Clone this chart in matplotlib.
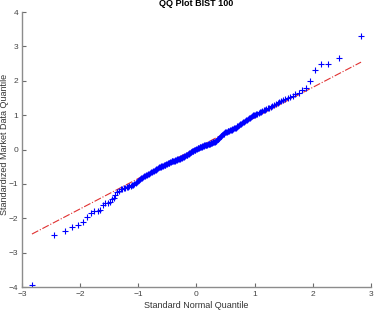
import numpy as np
import matplotlib
matplotlib.use("Agg")
import matplotlib.pyplot as plt
from statistics import NormalDist

# sorted standardized sample values (n = 215)
sample = [
    -3.94, -2.50, -2.36, -2.25, -2.19, -2.12, -1.97, -1.85, -1.79, -1.78,
    -1.77, -1.60, -1.57, -1.55, -1.53, -1.45, -1.40, -1.33, -1.24, -1.20,
    -1.16, -1.14, -1.13, -1.11, -1.09, -1.08, -1.07, -1.06, -1.04, -1.02,
    -1.00, -0.97, -0.95, -0.92, -0.89, -0.86, -0.84, -0.82, -0.80, -0.78,
    -0.77, -0.75, -0.73, -0.72, -0.70, -0.68, -0.66, -0.65, -0.63, -0.62,
    -0.60, -0.59, -0.57, -0.56, -0.54, -0.52, -0.51, -0.50, -0.49, -0.48,
    -0.47, -0.46, -0.45, -0.44, -0.43, -0.41, -0.40, -0.39, -0.38, -0.36,
    -0.35, -0.34, -0.34, -0.33, -0.33, -0.32, -0.31, -0.31, -0.30, -0.29,
    -0.29, -0.28, -0.27, -0.26, -0.25, -0.24, -0.23, -0.22, -0.21, -0.20,
    -0.19, -0.17, -0.16, -0.15, -0.13, -0.12, -0.10, -0.09, -0.07, -0.06,
    -0.05, -0.04, -0.03, -0.02, -0.01, 0.00, 0.01, 0.02,
    0.03, 0.04, 0.05, 0.06, 0.06, 0.07, 0.08, 0.09, 0.10, 0.11,
    0.12, 0.12, 0.13, 0.14, 0.14, 0.15, 0.16, 0.17, 0.17, 0.18,
    0.19, 0.20, 0.21, 0.21, 0.22, 0.23, 0.24, 0.26, 0.28, 0.30,
    0.32, 0.34, 0.36, 0.38, 0.40, 0.42, 0.44, 0.46, 0.48, 0.50,
    0.51, 0.52, 0.53, 0.54, 0.55, 0.56, 0.57, 0.58, 0.60, 0.61,
    0.62, 0.63, 0.64, 0.65, 0.67, 0.69, 0.70, 0.73, 0.75, 0.77,
    0.79, 0.81, 0.83, 0.85, 0.87, 0.89, 0.91, 0.93, 0.95, 0.97,
    0.99, 1.00, 1.01, 1.03, 1.04, 1.06, 1.08, 1.10, 1.12, 1.14,
    1.16, 1.18, 1.20, 1.22, 1.24, 1.27, 1.29, 1.32, 1.34, 1.37,
    1.40, 1.44, 1.47, 1.49, 1.52, 1.56, 1.61, 1.65, 1.73, 1.80,
    1.99, 2.30, 2.48, 2.50, 2.65, 3.29,
]

x_ticks = [-3, -2, -1, 0, 1, 2, 3]
y_ticks = [-4, -3, -2, -1, 0, 1, 2, 3, 4]

y = np.array(sample)
n = len(y)
nd = NormalDist()
x = np.array([nd.inv_cdf((i - 0.5) / n) for i in range(1, n + 1)])

# reference line through the quartiles, extended over the data range
q1y, q3y = np.percentile(y, [25, 75])
q1x, q3x = nd.inv_cdf(0.25), nd.inv_cdf(0.75)
slope = (q3y - q1y) / (q3x - q1x)
icpt = q1y - slope * q1x
lx = np.array([x.min(), x.max()])
ly = icpt + slope * lx

plt.rcParams['font.family'] = ['Liberation Sans', 'DejaVu Sans']

fig = plt.figure(figsize=(3.74, 3.12), dpi=100)
ax = fig.add_axes([0.0588, 0.0801, 0.9332, 0.8814])

ax.plot(lx, ly, linestyle='-.', color='#e03030', linewidth=0.8, zorder=1)
ax.plot(x, y, linestyle='none', marker='+', color='#0000ff',
        markersize=5, markeredgewidth=0.8, zorder=2)

ax.set_xlim(-3, 3)
ax.set_ylim(-4, 4)
ax.set_xticks(x_ticks)
ax.set_yticks(y_ticks)

for s in ['top', 'right']:
    ax.spines[s].set_visible(False)
for s in ['left', 'bottom']:
    ax.spines[s].set_color('#8c8c8c')
    ax.spines[s].set_linewidth(1.0)
ax.tick_params(direction='in', length=3, width=0.8, color='#6c6c6c',
               labelsize=6, labelcolor='#444444', pad=3)
ax.tick_params(axis='y', pad=2.5)

ax.set_title('QQ Plot BIST 100', fontsize=6.5, fontweight='bold', pad=4)
ax.set_xlabel('Standard Normal Quantile', fontsize=6.5, color='#333333', labelpad=2)
ax.set_ylabel('Standardized Market Data Quantile', fontsize=6.5, color='#333333')
ax.yaxis.set_label_coords(-0.038, 0.52)

fig.savefig('out.png', dpi=100)
